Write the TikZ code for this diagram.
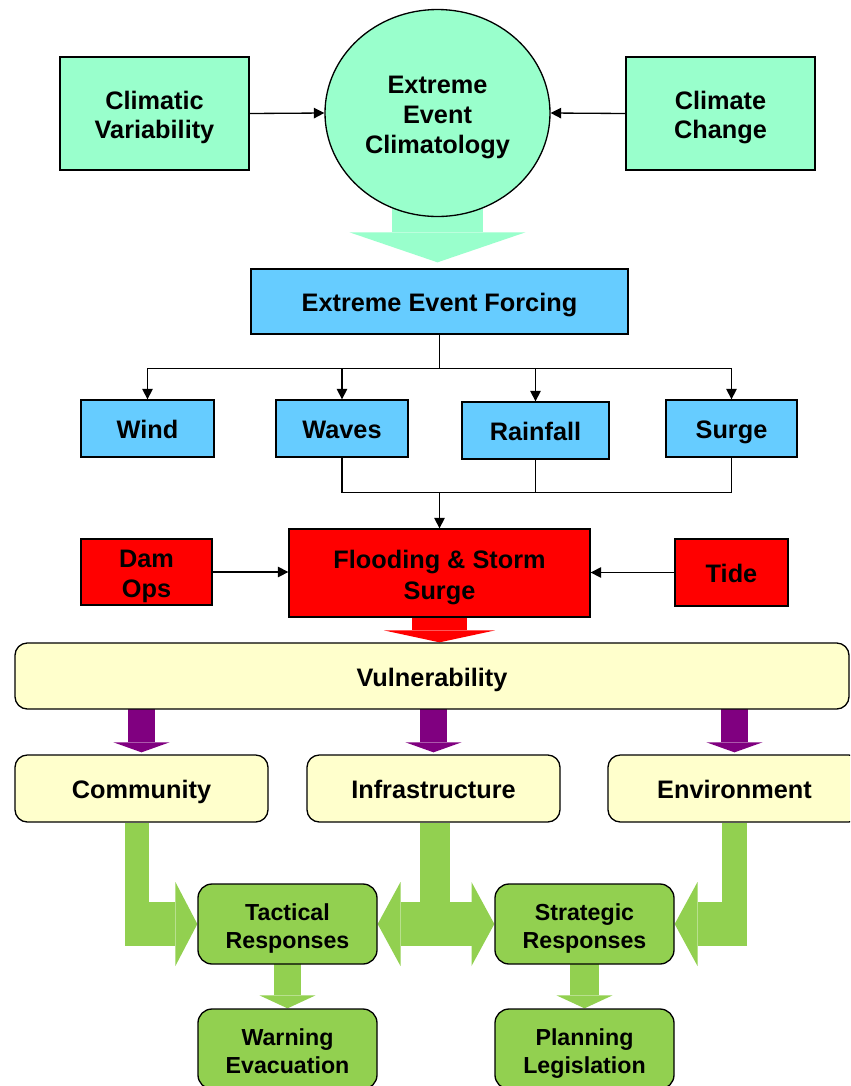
\documentclass[tikz,border=0pt]{standalone}
\usepackage{fontspec}
\setmainfont{Liberation Sans}
\usetikzlibrary{arrows.meta,calc,shapes.geometric,backgrounds}

\definecolor{mint}{HTML}{99FFCC}
\definecolor{skyblue}{HTML}{66CCFF}
\definecolor{redfill}{HTML}{FF0000}
\definecolor{paleyellow}{HTML}{FFFFCC}
\definecolor{plum}{HTML}{800080}
\definecolor{leaf}{HTML}{92D050}

% box text, set a little below the geometric centre
\newcommand\tx[1]{\raisebox{-0.09cm}[\height][\depth]{\begin{tabular}{@{}c@{}}#1\end{tabular}}}

\tikzset{
  wh/.style 2 args={minimum width=#1*0.02cm, minimum height=#2*0.02cm},
  basebox/.style={draw=black, line width=0.75pt, inner sep=0pt,
    text=black, font=\fontsize{14.4}{17}\selectfont\bfseries},
  mintbox/.style={basebox, fill=mint},
  bluebox/.style={basebox, fill=skyblue},
  redbox/.style={basebox, fill=redfill},
  yellowbox/.style={basebox, fill=paleyellow, rounded corners=7pt},
  greenbox/.style={basebox, fill=leaf, rounded corners=8pt,
    font=\fontsize{13.2}{16}\selectfont\bfseries},
  link/.style={draw=black, line width=0.75pt},
  linkarrow/.style={link, -{Triangle[length=6pt,width=6pt]}},
}

\begin{document}
\begin{tikzpicture}[x=0.02cm, y=-0.02cm]
  \useasboundingbox (0,0) rectangle (850,1086);
  \clip (0,0) rectangle (850,1086);

  % climate drivers
  \node[mintbox, wh={189}{113}] (cv) at (154.5,113.5) {\tx{Climatic\\Variability}};
  \node[mintbox, ellipse, wh={225}{207}] (ecl) at (437.5,113) {\tx{Extreme\\Event\\Climatology}};
  \node[mintbox, wh={189}{113}] (cc) at (720.5,113.5) {\tx{Climate\\Change}};

  % forcing
  \node[bluebox, wh={377}{65}] (eef) at (439.5,301.5) {\tx{Extreme Event Forcing}};
  \node[bluebox, wh={133}{57}] (wind) at (147.5,428.5) {\tx{Wind}};
  \node[bluebox, wh={132}{57}] (waves) at (342,428.5) {\tx{Waves}};
  \node[bluebox, wh={147}{57}] (rain) at (535.5,430.5) {\tx{Rainfall}};
  \node[bluebox, wh={131}{57}] (surge) at (731.5,428.5) {\tx{Surge}};

  % flooding
  \node[redbox, wh={301}{88}, font=\fontsize{14.4}{18}\selectfont\bfseries] (flood) at (439.5,573) {\tx{Flooding \& Storm\\Surge}};
  \node[redbox, wh={131}{66}] (dam) at (146.5,572) {\tx{Dam\\Ops}};
  \node[redbox, wh={113}{67}] (tide) at (731.5,572.5) {\tx{Tide}};

  % vulnerability
  \node[yellowbox, wh={834}{66}] (vuln) at (432,676) {\tx{Vulnerability}};
  \node[yellowbox, wh={253}{67}] (comm) at (141.5,788.5) {\tx{Community}};
  \node[yellowbox, wh={253}{67}] (infra) at (433.5,788.5) {\tx{Infrastructure}};
  \node[yellowbox, wh={253}{67}] (env) at (734.5,788.5) {\tx{Environment}};

  % responses
  \node[greenbox, wh={179}{80}] (tact) at (287.5,924) {\tx{Tactical\\Responses}};
  \node[greenbox, wh={179}{80}] (strat) at (584.5,924) {\tx{Strategic\\Responses}};
  \node[greenbox, wh={179}{80}] (warn) at (287.5,1049) {\tx{Warning\\Evacuation}};
  \node[greenbox, wh={179}{80}] (plan) at (584.5,1049) {\tx{Planning\\Legislation}};

  % thin connectors
  \draw[linkarrow] (cv.east) -- (ecl.west);
  \draw[linkarrow] (cc.west) -- (ecl.east);

  \coordinate (split) at ($(eef.south)+(0,34)$);
  \draw[link] (eef.south) -- (split);
  \foreach \n in {wind,waves,rain,surge}
    \draw[linkarrow] (split) -| (\n.north);

  \coordinate (merge) at ($(flood.north)+(0,-36)$);
  \draw[link] (waves.south) |- (merge);
  \draw[link] (surge.south) |- (merge);
  \draw[link] (rain.south) -- (rain.south |- merge);
  \draw[linkarrow] (merge) -- (flood.north);

  \draw[linkarrow] (dam.east) -- (dam.east -| flood.west);
  \draw[linkarrow] (tide.west) -- (tide.west -| flood.east);

  % white page and block arrows, behind the boxes
  \begin{scope}[on background layer]
    \fill[white] (0,0) rectangle (850,1086);

    \draw[mint, line width=51.8pt,
      -{Triangle[length=17.1pt,width=100.2pt,line width=0pt]}]
      (ecl.center) -- ($(ecl.center |- eef.north)+(0,-6)$);

    \draw[redfill, line width=31.3pt,
      -{Triangle[length=6.8pt,width=63.2pt,line width=0pt]}]
      (flood.center) -- (flood.south |- vuln.north);

    \foreach \n in {comm,infra,env}
      \draw[plum, line width=15.9pt,
        -{Triangle[length=5.7pt,width=31.9pt,line width=0pt]}]
        (\n.north |- vuln.center) -- ($(\n.north)+(0,-2)$);

    % community to tactical
    \draw[leaf, line width=13.7pt]
      ($(comm.south)+(-4.5,0)$) -- ($(comm.south |- tact.west)+(-4.5,21.5)$);
    \draw[leaf, line width=24.5pt,
      -{Triangle[length=12.5pt,width=47.8pt,line width=0pt]}]
      ($(comm.south |- tact.west)+(-16.5,0)$) -- (tact.west);

    % infrastructure to both responses
    \draw[leaf, line width=17.1pt]
      ($(infra.south)+(1.5,0)$) -- ($(infra.south |- tact.east)+(1.5,21.5)$);
    \draw[leaf, line width=24.5pt,
      {Triangle[length=13pt,width=47.8pt,line width=0pt]}-{Triangle[length=13pt,width=47.8pt,line width=0pt]}]
      (tact.east) -- (strat.west);

    % environment to strategic
    \draw[leaf, line width=14.2pt]
      (env.south) -- ($(env.south |- strat.east)+(0,21.5)$);
    \draw[leaf, line width=24.5pt,
      -{Triangle[length=13pt,width=47.8pt,line width=0pt]}]
      ($(env.south |- strat.east)+(12.5,0)$) -- (strat.east);

    % responses to actions
    \draw[leaf, line width=15.4pt,
      -{Triangle[length=7.4pt,width=31.9pt,line width=0pt]}]
      (tact.center) -- (warn.north);
    \draw[leaf, line width=16.5pt,
      -{Triangle[length=7.4pt,width=31.9pt,line width=0pt]}]
      (strat.center) -- (plan.north);
  \end{scope}
\end{tikzpicture}
\end{document}
